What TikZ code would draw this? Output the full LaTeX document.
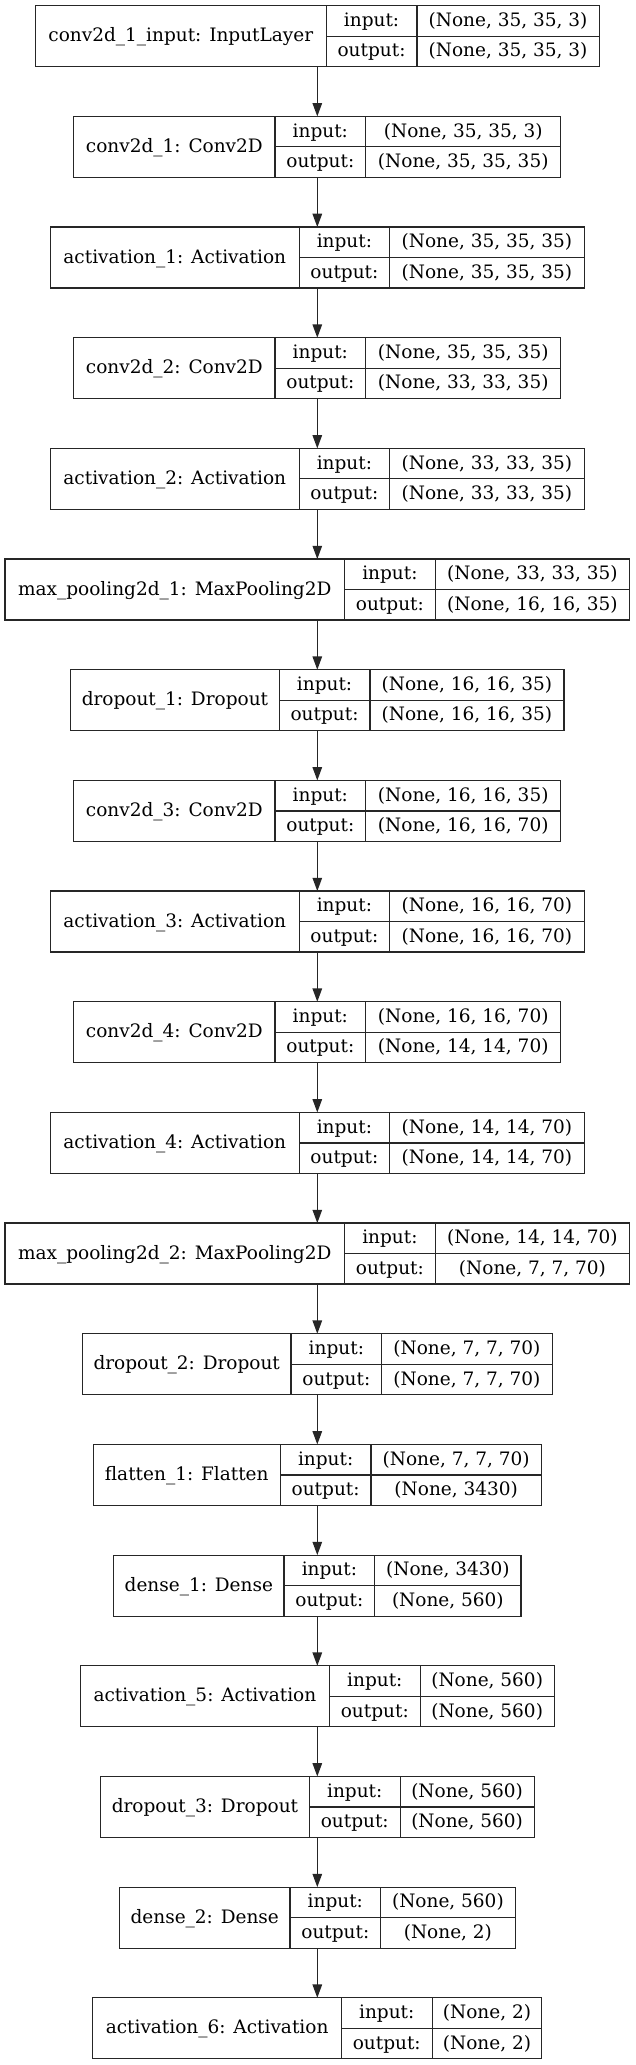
\documentclass[tikz,border=0pt]{standalone}
\usepackage{fontspec}
\setmainfont{DejaVu Serif}
\usetikzlibrary{arrows.meta}
\tikzset{
  lbox/.style={draw=black!85, line width=1.2pt, minimum height=61, inner sep=0pt, outer sep=0pt},
  cellt/.style={inner sep=0pt, outer sep=0pt,
    text height=15pt, text depth=4pt, font=\fontsize{18.5pt}{22pt}\selectfont},
  rule/.style={draw=black!85, line width=1.2pt},
  flow/.style={draw=black!85, line width=1.2pt, -{Triangle[length=13.3pt,width=9.5pt]}},
}
\newcommand\mklayer[6]{%
  \pgfmathsetmacro\LayW{#3+90.7+#4}%
  \pgfmathsetmacro\LayY{36.2+110.67*(#1-1)}%
  \pgfmathsetmacro\LayX{317.3-\LayW/2}%
  \pgfmathsetmacro\LayA{\LayX+#3}%
  \pgfmathsetmacro\LayB{\LayA+90.7}%
  \node[lbox, minimum width=\LayW] (L#1) at (317.3,\LayY) {};
  \node[cellt, minimum width=#3, minimum height=61] (N#1) at ({\LayX+#3/2},\LayY) {#2};
  \node[cellt, minimum width=90.7, minimum height=30.5] (I#1) at ({\LayA+45.35},{\LayY-15.25}) {input:};
  \node[cellt, minimum width=90.7, minimum height=30.5] (O#1) at ({\LayA+45.35},{\LayY+15.25}) {output:};
  \node[cellt, minimum width=#4, minimum height=30.5] (IV#1) at ({\LayB+#4/2},{\LayY-15.25}) {#5};
  \node[cellt, minimum width=#4, minimum height=30.5] (OV#1) at ({\LayB+#4/2},{\LayY+15.25}) {#6};
  \draw[rule] (L#1.north west -| N#1.east) -- (L#1.south west -| N#1.east);
  \draw[rule] (L#1.north west -| I#1.east) -- (L#1.south west -| I#1.east);
  \draw[rule] (N#1.east) -- (L#1.east);
}
\begin{document}
\begin{tikzpicture}[x=1pt,y=-1pt]
\fill[white] (0,0) rectangle (636,2065);
\useasboundingbox (0,0) rectangle (636,2065);
\mklayer{1}{conv2d\_1\_input: InputLayer}{290.7}{182.2}{(None, 35, 35, 3)}{(None, 35, 35, 3)}
\mklayer{2}{conv2d\_1: Conv2D}{201.2}{195.1}{(None, 35, 35, 3)}{(None, 35, 35, 35)}
\mklayer{3}{activation\_1: Activation}{248.6}{194.3}{(None, 35, 35, 35)}{(None, 35, 35, 35)}
\mklayer{4}{conv2d\_2: Conv2D}{201.2}{195.1}{(None, 35, 35, 35)}{(None, 33, 33, 35)}
\mklayer{5}{activation\_2: Activation}{248.6}{194.3}{(None, 33, 33, 35)}{(None, 33, 33, 35)}
\mklayer{6}{max\_pooling2d\_1: MaxPooling2D}{339.6}{194.4}{(None, 33, 33, 35)}{(None, 16, 16, 35)}
\mklayer{7}{dropout\_1: Dropout}{208.5}{194.0}{(None, 16, 16, 35)}{(None, 16, 16, 35)}
\mklayer{8}{conv2d\_3: Conv2D}{201.2}{195.1}{(None, 16, 16, 35)}{(None, 16, 16, 70)}
\mklayer{9}{activation\_3: Activation}{248.6}{194.3}{(None, 16, 16, 70)}{(None, 16, 16, 70)}
\mklayer{10}{conv2d\_4: Conv2D}{201.2}{195.1}{(None, 16, 16, 70)}{(None, 14, 14, 70)}
\mklayer{11}{activation\_4: Activation}{248.6}{194.3}{(None, 14, 14, 70)}{(None, 14, 14, 70)}
\mklayer{12}{max\_pooling2d\_2: MaxPooling2D}{339.6}{194.4}{(None, 14, 14, 70)}{(None, 7, 7, 70)}
\mklayer{13}{dropout\_2: Dropout}{208.5}{170.4}{(None, 7, 7, 70)}{(None, 7, 7, 70)}
\mklayer{14}{flatten\_1: Flatten}{187.1}{170.4}{(None, 7, 7, 70)}{(None, 3430)}
\mklayer{15}{dense\_1: Dense}{170.4}{146.2}{(None, 3430)}{(None, 560)}
\mklayer{16}{activation\_5: Activation}{249.0}{134.0}{(None, 560)}{(None, 560)}
\mklayer{17}{dropout\_3: Dropout}{208.9}{134.0}{(None, 560)}{(None, 560)}
\mklayer{18}{dense\_2: Dense}{170.5}{134.4}{(None, 560)}{(None, 2)}
\mklayer{19}{activation\_6: Activation}{248.6}{109.7}{(None, 2)}{(None, 2)}
\foreach \i [evaluate=\i as \j using int(\i+1)] in {1,...,18}
  \draw[flow] (L\i.south) -- (L\j.north);
\end{tikzpicture}
\end{document}
